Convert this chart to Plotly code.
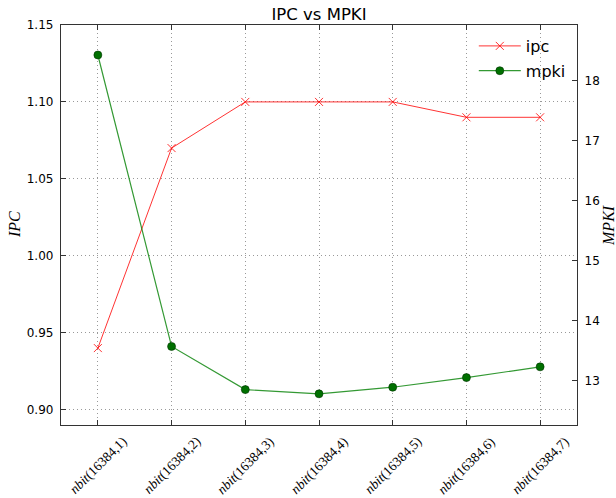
import plotly.graph_objects as go

categories = ["nbit(16384,1)", "nbit(16384,2)", "nbit(16384,3)", "nbit(16384,4)",
              "nbit(16384,5)", "nbit(16384,6)", "nbit(16384,7)"]
ipc = [0.94, 1.07, 1.10, 1.10, 1.10, 1.09, 1.09]
mpki = [18.43, 13.57, 12.85, 12.78, 12.89, 13.05, 13.23]
ipc_ticks = [0.90, 0.95, 1.00, 1.05, 1.10, 1.15]
mpki_ticks = [13, 14, 15, 16, 17, 18]

SANS = "DejaVu Sans"
SERIF = "Liberation Serif"

W, H = 616, 498

fig = go.Figure()
fig.add_trace(go.Scatter(
    x=categories, y=ipc, name="ipc", mode="lines+markers", yaxis="y",
    legendgroup="a",
    line=dict(color="rgba(255,0,0,0.8)", width=1),
    marker=dict(symbol="x-thin", size=8, line=dict(color="rgba(255,0,0,0.8)", width=1)),
))
fig.add_trace(go.Scatter(
    x=categories, y=mpki, name="mpki", mode="lines+markers", yaxis="y2",
    legendgroup="b",
    line=dict(color="rgba(0,128,0,0.8)", width=1.2),
    marker=dict(symbol="circle", size=8, color="#007000", line=dict(color="#003300", width=0.6)),
))

grid = dict(showgrid=True, gridcolor="#999999", gridwidth=1, griddash="1px,3px")

fig.update_layout(
    width=W, height=H,
    margin=dict(l=61, r=39, t=25, b=73),
    paper_bgcolor="white", plot_bgcolor="white",
    font=dict(family=SANS, size=12, color="black"),
    title=dict(text="IPC vs MPKI", x=0.5, xref="paper", xanchor="center",
               y=1 - 13.8 / H, yref="container", yanchor="middle",
               font=dict(family=SANS, size=16.5, color="black")),
    xaxis=dict(type="category", range=[-0.5, 6.5], showticklabels=False,
               showline=True, linecolor="#333333", linewidth=1.3, mirror="ticks",
               ticks="inside", ticklen=5, tickcolor="#333333", zeroline=False, **grid),
    yaxis=dict(range=[0.89, 1.15], tickvals=ipc_ticks, tickformat=".2f",
               showline=True, linecolor="#333333", linewidth=1.3, mirror=True,
               ticks="inside", ticklen=5, tickcolor="#333333", zeroline=False,
               tickfont=dict(family=SANS, size=12), ticklabelstandoff=4, **grid),
    yaxis2=dict(range=[12.26, 18.93], tickvals=mpki_ticks, overlaying="y", side="right",
                showline=True, linecolor="#333333", linewidth=1.3, showgrid=False,
                ticks="inside", ticklen=5, tickcolor="#333333", zeroline=False,
                tickfont=dict(family=SANS, size=12), ticklabelstandoff=4),
    legend=dict(x=0.80, y=0.99, xanchor="left", yanchor="top",
                bgcolor="rgba(0,0,0,0)", borderwidth=0, tracegroupgap=1, itemwidth=42,
                font=dict(family=SANS, size=16, color="black")),
    showlegend=True,
)

annotations = []
for c in categories:
    name, rest = c.split("(", 1)
    annotations.append(dict(
        x=c, xref="x", y=0, yref="paper", yshift=-40,
        text=f"<i>{name}</i>({rest}", showarrow=False, textangle=-45,
        xanchor="center", yanchor="middle",
        font=dict(family=SERIF, size=13.5, color="black"),
    ))
annotations.append(dict(x=-0.091, xref="paper", y=0.5, yref="paper", text="<i>IPC</i>",
                        showarrow=False, textangle=-90, xanchor="center", yanchor="middle",
                        font=dict(family=SERIF, size=16, color="black")))
annotations.append(dict(x=1.060, xref="paper", y=0.5, yref="paper", text="<i>MPKI</i>",
                        showarrow=False, textangle=-90, xanchor="center", yanchor="middle",
                        font=dict(family=SERIF, size=16, color="black")))
fig.update_layout(annotations=annotations)

fig.write_html("out.html", config={"displayModeBar": False},
               post_script="document.body.style.margin='0';")
